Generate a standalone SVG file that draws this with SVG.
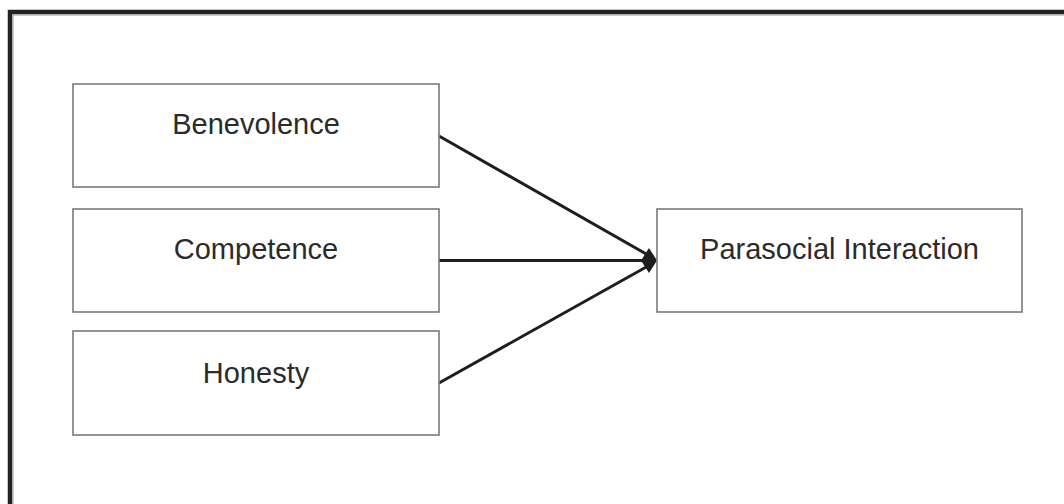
<svg xmlns="http://www.w3.org/2000/svg" width="1064" height="504" viewBox="0 0 1064 504">
<style>
.box{fill:#fff;stroke:#7a7a7a;stroke-width:1.6}
.lbl{font-family:"Liberation Sans",Arial,sans-serif;font-size:29px;fill:#2b2b2b;text-anchor:middle}
.edge{stroke:#1e1e1e;stroke-width:3;fill:none}
</style>
<rect width="1064" height="504" fill="#fff"/>
<g id="frame">
<path d="M10,504 V12 H1064" fill="none" stroke="#222" stroke-width="4.5"/>
<path d="M13,504 V15 H1064" fill="none" stroke="#999" stroke-width="1"/>
</g>
<g id="connectors">
<line class="edge" x1="439" y1="136" x2="648" y2="255"/>
<line class="edge" x1="439" y1="260.5" x2="646" y2="260.5"/>
<line class="edge" x1="439" y1="383" x2="648" y2="266"/>
<polygon points="657,260.5 649,248 641,260.5 649,273" fill="#1e1e1e"/>
</g>
<g id="node-benevolence">
<rect class="box" x="73" y="84" width="366" height="103"/>
<text class="lbl" x="256" y="134">Benevolence</text>
</g>
<g id="node-competence">
<rect class="box" x="73" y="209" width="366" height="103"/>
<text class="lbl" x="256" y="259">Competence</text>
</g>
<g id="node-honesty">
<rect class="box" x="73" y="331" width="366" height="104"/>
<text class="lbl" x="256" y="383">Honesty</text>
</g>
<g id="node-parasocial">
<rect class="box" x="657" y="209" width="365" height="103"/>
<text class="lbl" x="839.5" y="259">Parasocial Interaction</text>
</g>
</svg>
